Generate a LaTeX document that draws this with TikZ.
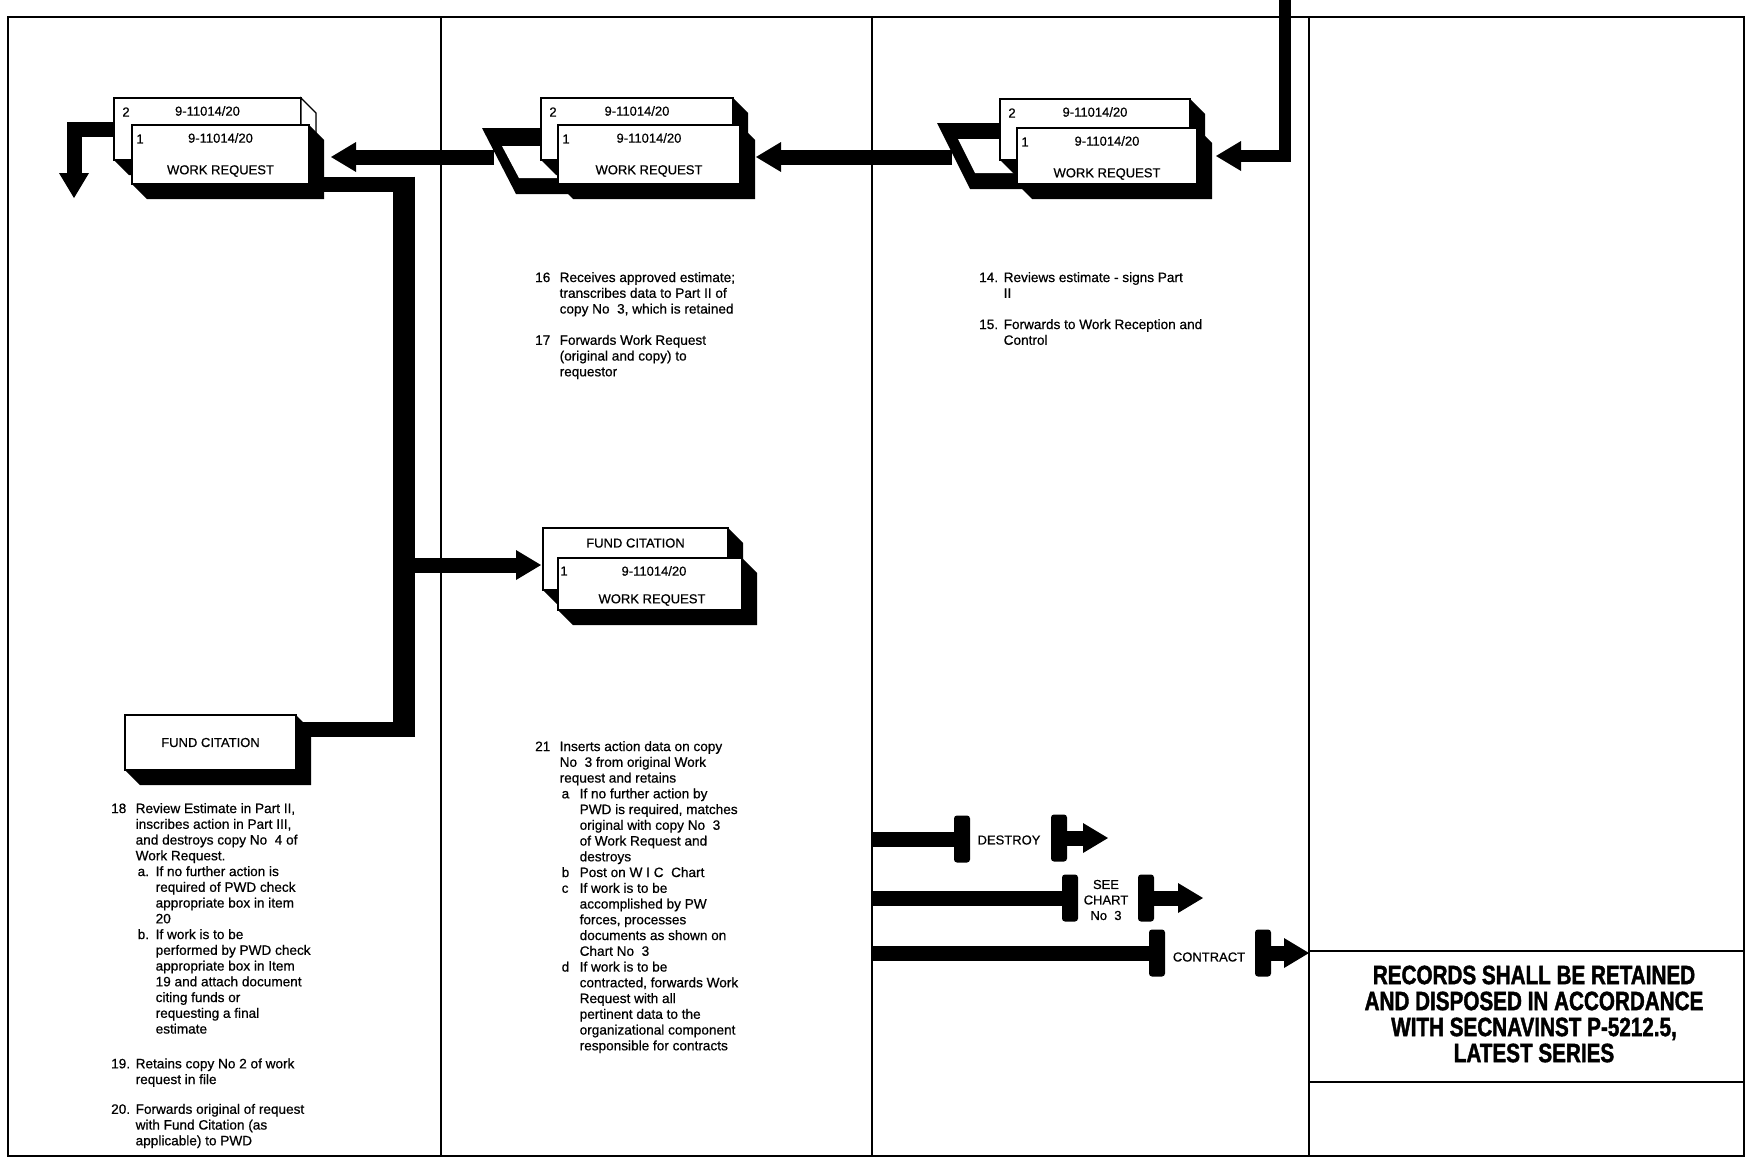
\documentclass[tikz,border=0pt]{standalone}
\usepackage{fontspec}
\setmainfont[FakeBold=0.6]{Liberation Sans}
\newfontfamily\recfont[FakeStretch=0.78,FakeBold=1.5]{Liberation Sans}
\usetikzlibrary{arrows.meta,calc}
\newcommand\cdx{15}
\newcommand\cdy{15}
\newcommand\mkcard[6]{%
  \path[#6] (#2,#3) -- (#4,#3) -- ({#4+\cdx},{#3+\cdy}) -- ({#4+\cdx},{#5+\cdy}) -- ({#2+\cdx},{#5+\cdy}) -- (#2,#5) -- cycle;
  \node[cardface, minimum width={#4-#2}, minimum height={#5-#3}] (#1) at (#2,#3) {};}
\newcommand\nIt[2]{\makebox[24.5pt][l]{#1}#2}
\newcommand\nCo[1]{\hspace*{24.5pt}#1}
\newcommand\sIt[2]{\hspace*{26.5pt}\makebox[18pt][l]{#1}#2}
\newcommand\sCo[1]{\hspace*{44.5pt}#1}
\begin{document}
\begin{tikzpicture}[x=1pt,y=-1pt,
  frame/.style={line width=2.5pt},
  rule/.style={line width=2pt},
  bar/.style={line width=15pt, line cap=butt, line join=miter},
  bigtip/.style={-{Triangle[length=25pt,width=30pt,line width=0pt]}},
  cardface/.style={draw, line width=1.3pt, fill=white, inner sep=0pt, outer sep=0pt, anchor=north west},
  lbl/.style={font=\fontsize{13}{15.5}\selectfont, inner sep=0pt, align=center},
  body/.style={font=\fontsize{13.6}{15.75}\selectfont, align=left, anchor=north west, inner sep=0pt},
  stopbar/.style={fill, rounded corners=3pt, minimum width=16pt, minimum height=47pt, inner sep=0pt}]
\useasboundingbox (0,0) rectangle (1749,1159);
\fill[white] (0,0) rectangle (1749,1159);
% frame and columns
\draw[frame] (8,17) rectangle (1744,1156);
\draw[frame] (441,17) -- (441,1156);
\draw[frame] (872,17) -- (872,1156);
\draw[frame] (1309,17) -- (1309,1156);
\draw[rule] (1309,951) -- (1744,951);
\draw[rule] (1309,1082) -- (1744,1082);
% trays
\fill (482,128) -- (620,128) -- (652,194) -- (516,194) -- cycle;
\fill[white] (502,146) -- (620,146) -- (633,178) -- (519,178) -- cycle;
\coordinate (trayB) at (494,157);
\fill (937,123) -- (1060,123) -- (1092,189) -- (970,189) -- cycle;
\fill[white] (958,139) -- (1060,139) -- (1075,173) -- (975,173) -- cycle;
\coordinate (trayC) at (952,157);
% cards
\mkcard{cAb}{114}{98}{301}{160}{fill}
\draw[line width=1.3pt, fill=white] (301,98) -- (316,113) -- (316,175) -- (301,160) -- cycle;
\mkcard{cAf}{132}{125}{309}{184}{fill}
\mkcard{cBb}{541}{98}{733}{160}{fill}
\mkcard{cBf}{558}{125}{740}{184}{fill}
\mkcard{cCb}{1000}{99}{1190}{160}{fill}
\mkcard{cCf}{1017}{128}{1197}{184}{fill}
\mkcard{cDb}{543}{528}{728}{590}{fill}
\mkcard{cDf}{558}{558}{742}{610}{fill}
\mkcard{cE}{125}{715}{296}{770}{fill}
% card labels
\foreach \c/\n in {cAb/2,cBb/2,cCb/2}{
  \node[lbl] at ($(\c.north west)+(12,14)$) {\n};
  \node[lbl] at ($(\c.north)+(0,13)$) {9-11014/20};}
\foreach \c in {cAf,cBf,cCf}{
  \node[lbl] at ($(\c.north west)+(8,14)$) {1};
  \node[lbl] at ($(\c.north)+(0,13)$) {9-11014/20};
  \node[lbl] at ($(\c.north)+(0,46)$) {WORK REQUEST};}
\node[lbl] at ($(cDb.north)+(0,15)$) {FUND CITATION};
\node[lbl] at ($(cDf.north west)+(6,13)$) {1};
\node[lbl] at ($(cDf.north)+(4,13)$) {9-11014/20};
\node[lbl] at ($(cDf.north)+(2,42)$) {WORK REQUEST};
\node[lbl] at (cE.center) {FUND CITATION};
% connectors
\coordinate (feed) at (1285,0);
\draw[bar, line width=12pt, bigtip, shorten >=19pt] (feed) |- (cCf.east);
\draw[bar, bigtip, shorten >=16pt] (trayC) -- (trayC -| cBf.east);
\draw[bar, bigtip, shorten >=22pt] (trayB) -- (trayB -| cAf.east);
\coordinate (aDown) at (74,198);
\draw[bar, bigtip] (cAb.west) -| (aDown);
\coordinate (jt) at (404,184);
\coordinate (jb) at (404,729);
\coordinate (jm) at (404,565);
\draw[line width=22pt] ($(jt)+(0,-7.5)$) -- ($(jb)+(0,7.5)$);
\draw[bar] (cAf.south east) -- ([xshift=11pt]jt);
\draw[bar] ([xshift=11pt]jb) -- (jb -| cE.east);
\draw[bar, bigtip, shorten >=2pt] (jm) -- (jm -| cDb.west);
% disposition rows
\coordinate (r1) at (872,839);
\coordinate (r2) at (872,898);
\coordinate (r3) at (872,953);
\node[stopbar] (s1a) at (962,839) {};
\node[stopbar] (s1b) at (1059,838) {};
\node[stopbar] (s2a) at (1070,898) {};
\node[stopbar] (s2b) at (1146,898) {};
\node[stopbar] (s3a) at (1157,953) {};
\node[stopbar] (s3b) at (1263,953) {};
\coordinate (e1) at (1108,838);
\coordinate (e2) at (1203,898);
\coordinate (e3) at (1309,953);
\draw[bar] (r1) -- (s1a);
\draw[bar] (r2) -- (s2a);
\draw[bar] (r3) -- (s3a);
\draw[bar, bigtip] (s1b) -- (e1);
\draw[bar, bigtip] (s2b) -- (e2);
\draw[bar, bigtip] (s3b) -- (e3);
\node[lbl] (t1) at (1009,840) {DESTROY};
\node[lbl] (t2) at (1106,900) {SEE\\CHART\\No~~3};
\node[lbl] (t3) at (1209,957) {CONTRACT};
% records note
\node[font=\recfont\bfseries\fontsize{26.5}{26}\selectfont, align=center, inner sep=0pt] (rec) at (1534,1014)
  {RECORDS SHALL BE RETAINED\\AND DISPOSED IN ACCORDANCE\\WITH SECNAVINST P-5212.5,\\LATEST SERIES};
% text blocks
\node[body] (b14) at (979,272) {\nIt{14.}{Reviews estimate - signs Part}\\
  \nCo{II}\\[15.5pt]
  \nIt{15.}{Forwards to Work Reception and}\\
  \nCo{Control}};
\node[body] (b16) at (535,272) {\nIt{16}{Receives approved estimate;}\\
  \nCo{transcribes data to Part II of}\\
  \nCo{copy No~~3, which is retained}\\[15.5pt]
  \nIt{17}{Forwards Work Request}\\
  \nCo{(original and copy) to}\\
  \nCo{requestor}};
\node[body] (b21) at (535,741) {\nIt{21}{Inserts action data on copy}\\
  \nCo{No~~3 from original Work}\\
  \nCo{request and retains}\\
  \sIt{a}{If no further action by}\\
  \sCo{PWD is required, matches}\\
  \sCo{original with copy No~~3}\\
  \sCo{of Work Request and}\\
  \sCo{destroys}\\
  \sIt{b}{Post on W I C~~Chart}\\
  \sIt{c}{If work is to be}\\
  \sCo{accomplished by PW}\\
  \sCo{forces, processes}\\
  \sCo{documents as shown on}\\
  \sCo{Chart No~~3}\\
  \sIt{d}{If work is to be}\\
  \sCo{contracted, forwards Work}\\
  \sCo{Request with all}\\
  \sCo{pertinent data to the}\\
  \sCo{organizational component}\\
  \sCo{responsible for contracts}};
\node[body] (b18) at (111,803) {\nIt{18}{Review Estimate in Part II,}\\
  \nCo{inscribes action in Part III,}\\
  \nCo{and destroys copy No~~4 of}\\
  \nCo{Work Request.}\\
  \sIt{a.}{If no further action is}\\
  \sCo{required of PWD check}\\
  \sCo{appropriate box in item}\\
  \sCo{20}\\
  \sIt{b.}{If work is to be}\\
  \sCo{performed by PWD check}\\
  \sCo{appropriate box in Item}\\
  \sCo{19 and attach document}\\
  \sCo{citing funds or}\\
  \sCo{requesting a final}\\
  \sCo{estimate}\\[19pt]
  \nIt{19.}{Retains copy No 2 of work}\\
  \nCo{request in file}\\[14pt]
  \nIt{20.}{Forwards original of request}\\
  \nCo{with Fund Citation (as}\\
  \nCo{applicable) to PWD}};
\end{tikzpicture}
\end{document}
